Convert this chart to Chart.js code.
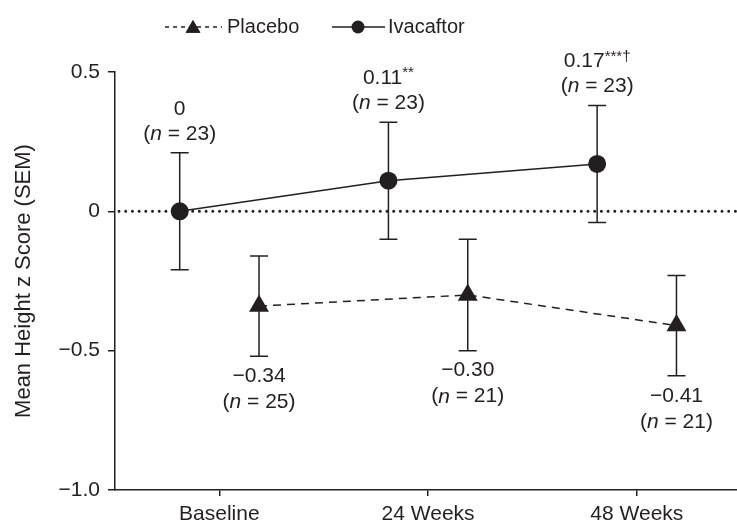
<!DOCTYPE html>
<html>
<head>
<meta charset="utf-8">
<title>Mean Height z Score</title>
<script src="https://cdn.jsdelivr.net/npm/chart.js@4"></script>
<style>
    html, body { margin: 0; padding: 0; background: #fff; }
</style>
</head>
<body>
<canvas id="heightChart" width="737" height="521"></canvas>
<script>
// Data
const timepoints = ['Baseline', '24 Weeks', '48 Weeks'];
const placeboMean = [-0.34, -0.30, -0.41];
const placeboSem = [0.18, 0.20, 0.18];
const placeboN = [25, 21, 21];
const ivacaftorMean = [0, 0.11, 0.17];
const ivacaftorSem = [0.21, 0.21, 0.21];
const ivacaftorN = [23, 23, 23];
const ivacaftorSig = ['', '**', '***†'];
const yTickValues = [-1.0, -0.5, 0, 0.5];
const yTickLabels = ['−1.0', '−0.5', '0', '0.5'];

const INK = '#231f20';
const FONT = '"Liberation Sans", Arial, Helvetica, sans-serif';
const SHIFT = 0.19; // groups sit either side of the timepoint

const fmt = v => v === 0 ? '0' : v.toFixed(2).replace('-', '−');

// "(n = 23)" with an italic n, centred on x
function drawN(ctx, x, y, n) {
    const normal = `21px ${FONT}`;
    const italic = `italic 21px ${FONT}`;
    const parts = [['(', normal], ['n', italic], [` = ${n})`, normal]];
    let w = 0;
    parts.forEach(p => { ctx.font = p[1]; w += ctx.measureText(p[0]).width; });
    let cx = x - w / 2;
    parts.forEach(p => {
        ctx.font = p[1];
        ctx.fillText(p[0], cx, y);
        cx += ctx.measureText(p[0]).width;
    });
}

// value with optional raised significance marks, centred on x
function drawValue(ctx, x, y, text, sig) {
    ctx.font = `21px ${FONT}`;
    const w1 = ctx.measureText(text).width;
    ctx.font = `15px ${FONT}`;
    const w2 = sig ? ctx.measureText(sig).width : 0;
    const left = x - (w1 + w2) / 2;
    ctx.font = `21px ${FONT}`;
    ctx.fillText(text, left, y);
    if (sig) {
        ctx.font = `15px ${FONT}`;
        ctx.fillText(sig, left + w1, y - 5);
    }
}

const extras = {
    id: 'extras',
    beforeDatasetsDraw(chart) {
        const { ctx, chartArea, scales: { x, y } } = chart;
        ctx.save();
        // dotted zero line
        ctx.strokeStyle = INK;
        ctx.lineWidth = 3;
        ctx.lineCap = 'round';
        ctx.setLineDash([0, 6.7]);
        ctx.beginPath();
        ctx.moveTo(chartArea.left + 4, y.getPixelForValue(0));
        ctx.lineTo(chartArea.right, y.getPixelForValue(0));
        ctx.stroke();

        // error bars
        ctx.setLineDash([]);
        ctx.lineCap = 'butt';
        ctx.lineWidth = 1.5;
        const bars = (means, sems, dx) => means.forEach((m, i) => {
            const px = x.getPixelForValue(i + dx);
            const top = y.getPixelForValue(m + sems[i]);
            const bot = y.getPixelForValue(m - sems[i]);
            ctx.beginPath();
            ctx.moveTo(px, top); ctx.lineTo(px, bot);
            ctx.moveTo(px - 9, top); ctx.lineTo(px + 9, top);
            ctx.moveTo(px - 9, bot); ctx.lineTo(px + 9, bot);
            ctx.stroke();
        });
        bars(ivacaftorMean, ivacaftorSem, -SHIFT);
        bars(placeboMean, placeboSem, SHIFT);
        ctx.restore();
    },
    afterDatasetsDraw(chart) {
        const { ctx, scales: { x, y } } = chart;
        ctx.save();
        ctx.fillStyle = INK;
        ctx.textBaseline = 'middle';
        ctx.textAlign = 'left';

        ivacaftorMean.forEach((m, i) => {
            const px = x.getPixelForValue(i - SHIFT);
            const cap = y.getPixelForValue(m + ivacaftorSem[i]);
            drawValue(ctx, px, cap - 44, fmt(m), ivacaftorSig[i]);
            drawN(ctx, px, cap - 19, ivacaftorN[i]);
        });
        placeboMean.forEach((m, i) => {
            const px = x.getPixelForValue(i + SHIFT);
            const cap = y.getPixelForValue(m - placeboSem[i]);
            drawValue(ctx, px, cap + 20, fmt(m), '');
            drawN(ctx, px, cap + 46, placeboN[i]);
        });

        // legend
        const ly = 27;
        ctx.strokeStyle = INK;
        ctx.lineWidth = 1.5;
        ctx.setLineDash([4, 4]);
        ctx.beginPath();
        ctx.moveTo(165, ly); ctx.lineTo(222, ly);
        ctx.stroke();
        ctx.setLineDash([]);
        Chart.helpers.drawPoint(ctx, { pointStyle: 'triangle', radius: 8.5, borderWidth: 0 }, 193, ly + 1.5);
        ctx.fill();
        ctx.beginPath();
        ctx.moveTo(332, ly); ctx.lineTo(385, ly);
        ctx.stroke();
        ctx.beginPath();
        ctx.arc(358, ly, 6.5, 0, Math.PI * 2);
        ctx.fill();
        ctx.font = `20px ${FONT}`;
        ctx.fillText('Placebo', 227, ly);
        ctx.fillText('Ivacaftor', 388, ly);
        ctx.restore();
    }
};

new Chart(document.getElementById('heightChart'), {
    type: 'line',
    data: {
        datasets: [
            {
                label: 'Placebo',
                data: placeboMean.map((m, i) => ({ x: i + SHIFT, y: m })),
                borderColor: INK,
                borderWidth: 1.5,
                borderDash: [8, 6],
                backgroundColor: INK,
                pointStyle: 'triangle',
                pointRadius: 11.5,
                pointBorderWidth: 0,
                tension: 0
            },
            {
                label: 'Ivacaftor',
                data: ivacaftorMean.map((m, i) => ({ x: i - SHIFT, y: m })),
                borderColor: INK,
                borderWidth: 1.5,
                backgroundColor: INK,
                pointStyle: 'circle',
                pointRadius: 9,
                pointBorderWidth: 0,
                tension: 0
            }
        ]
    },
    options: {
        responsive: false,
        animation: false,
        layout: { autoPadding: false, padding: { top: 72, right: 0, bottom: 0, left: 0 } },
        plugins: {
            legend: { display: false },
            tooltip: { enabled: false }
        },
        scales: {
            x: {
                type: 'linear',
                min: -0.5,
                max: 2.48,
                afterBuildTicks: s => { s.ticks = timepoints.map((t, i) => ({ value: i })); },
                afterFit: s => { s.height = 31; s.paddingLeft = 0; s.paddingRight = 0; },
                ticks: {
                    callback: v => timepoints[v],
                    color: INK,
                    font: { family: FONT, size: 21 },
                    padding: 6,
                    maxRotation: 0,
                    autoSkip: false
                },
                grid: { drawOnChartArea: false, tickLength: 6, color: INK, lineWidth: 1.5 },
                border: { color: INK, width: 1.5 }
            },
            y: {
                min: -1,
                max: 0.5,
                afterBuildTicks: s => { s.ticks = yTickValues.map(v => ({ value: v })); },
                afterFit: s => { s.width = 115; },
                ticks: {
                    callback: v => yTickLabels[yTickValues.indexOf(v)],
                    color: INK,
                    font: { family: FONT, size: 21 },
                    padding: 8
                },
                grid: { drawOnChartArea: false, tickLength: 7, color: INK, lineWidth: 1.5 },
                border: { color: INK, width: 1.5 },
                title: {
                    display: true,
                    text: 'Mean Height z Score (SEM)',
                    color: INK,
                    font: { family: FONT, size: 22 },
                    padding: { top: 11, bottom: 0 }
                }
            }
        }
    },
    plugins: [extras]
});
</script>
</body>
</html>
